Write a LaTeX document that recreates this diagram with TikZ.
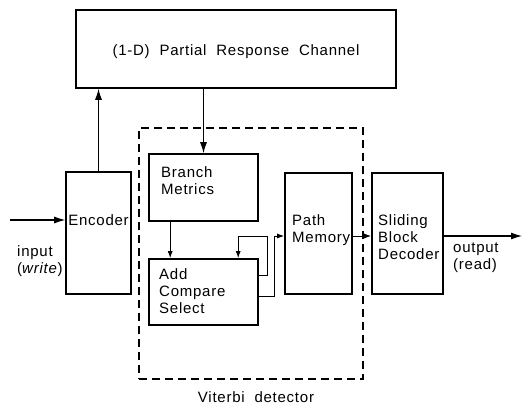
\documentclass[tikz,border=0pt]{standalone}
\usepackage{fontspec}
\setmainfont[LetterSpace=5,WordSpace=2]{Liberation Sans}
\usetikzlibrary{arrows.meta,positioning}

\begin{document}
\begin{tikzpicture}[x=1pt,y=-1pt,
  blk/.style={draw,line width=1.6pt,inner sep=0pt},
  txt/.style={inner sep=0pt,align=left,font=\fontsize{15}{17}\selectfont},
  sig/.style={-{Latex[length=11pt,width=7pt]},line width=1.1pt},
  sigs/.style={-{Latex[length=7pt,width=5pt]},line width=1pt}]
\useasboundingbox (0,0) rectangle (522,408);

% blocks: name/centre x/centre y/width/height
\foreach \nm/\cx/\cy/\w/\h in {chan/236/49/320/78,enc/98.5/233/65/122,bm/203.5/187.5/109/67,acs/203.5/292/109/66,pm/318.5/233.5/67/121,sbd/407.5/233.5/71/121} {
  \node[blk,minimum width=\w pt,minimum height=\h pt] (\nm) at (\cx,\cy) {};
}
\node[draw,line width=1.3pt,dash pattern=on 8pt off 5pt,inner sep=0pt,
  minimum width=224pt,minimum height=251pt] (vit) at (251,253.5) {};

% block texts
\node[txt,anchor=base] (chantxt) at (236,55) {(1-D) Partial Response Channel};
\node[txt,anchor=base] (enctxt) at (98.5,225) {Encoder};
\node[txt,anchor=north west] (bmtxt) at (161,166) {Branch\\Metrics};
\node[txt,anchor=north west] (acstxt) at (159,268) {Add\\Compare\\Select};
\node[txt,anchor=north west] (pmtxt) at (292,214) {Path\\Memory};
\node[txt,anchor=north west] (sbdtxt) at (378,214) {Sliding\\Block\\Decoder};
\node[txt,anchor=north west] (intxt) at (17,245) {input\\(\textit{write})};
\node[txt,anchor=north west] (outtxt) at (453,243) {output\\(read)};
\node[txt,anchor=base] (vittxt) at (256,402) {Viterbi detector};

% signal paths
\coordinate (in) at (10,220);
\coordinate (out) at (522,236);
\draw[sig] (in) -- (in -| enc.west);
\draw[sig] (enc.north) -- (enc.north |- chan.south);
\draw[sig] (bm.north |- chan.south) -- (bm.north);
\draw[sigs] ([xshift=22pt]bm.south west) -- ([xshift=22pt]acs.north west);
\draw[sigs] ([yshift=-17pt]acs.north east) -| ++(9,-39) -| ([xshift=90pt]acs.north west);
\draw[sigs] ([yshift=-38pt]acs.north east) -- ++(16,0) |- ([yshift=-2.5pt]pm.west);
\draw[sigs] ([yshift=-2.5pt]pm.east) -- ([yshift=-2.5pt]sbd.west);
\draw[sig] ([yshift=-2.5pt]sbd.east) -- (out);
\end{tikzpicture}
\end{document}
